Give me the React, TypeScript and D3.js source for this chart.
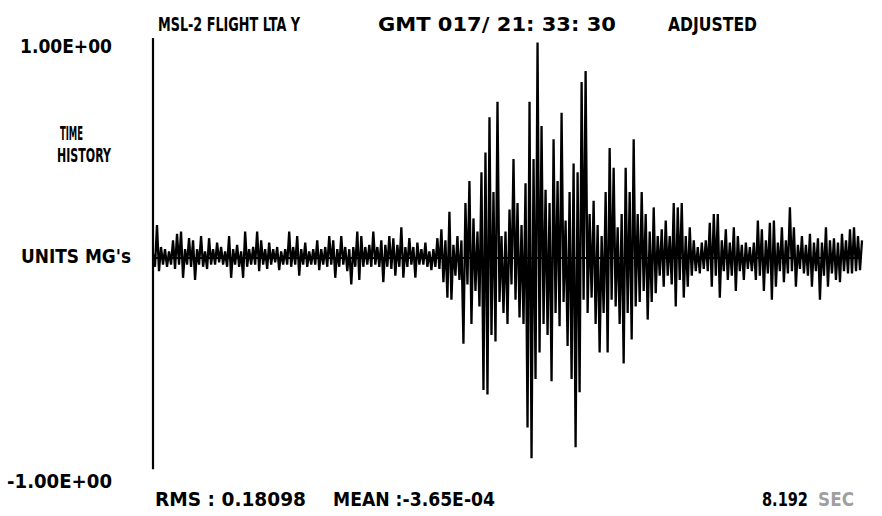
import React from "react";
import * as d3 from "d3";

// Acceleration time history (g), sampled evenly over the record.
// Quiet lead-in before the event
const quietSegment: number[] = [
  0.02, -0.04, 0.15, -0.06, 0.05, -0.03, 0.04, -0.04, 0.03, -0.03,
  0.08, -0.05, 0.11, -0.03, 0.12, -0.09, 0.04, -0.03, 0.09, -0.04,
  0.08, -0.10, 0.04, -0.03, 0.10, -0.04, 0.03, -0.05, 0.09, -0.03,
  0.04, -0.03, 0.07, -0.02, 0.05, -0.03, 0.03, -0.04, 0.10, -0.09,
  0.04, -0.03, 0.06, -0.04, 0.03, -0.09, 0.12, -0.04, 0.04, -0.03,
  0.05, -0.03, 0.12, -0.06, 0.08, -0.03, 0.04, -0.05, 0.07, -0.03,
  0.04, -0.02, 0.05, -0.055, 0.03, -0.03, 0.04, -0.03, 0.12, -0.04,
  0.05, -0.03, 0.10, -0.08, 0.04, -0.03, 0.07, -0.04, 0.03, -0.03,
  0.04, -0.03, 0.08, -0.055, 0.04, -0.03, 0.05, -0.04, 0.10, -0.03,
  0.08, -0.09, 0.04, -0.04, 0.10, -0.03, 0.05, -0.06, 0.04, -0.12,
  0.05, -0.04, 0.12, -0.10, 0.10, -0.04, 0.05, -0.03, 0.06, -0.04,
  0.12, -0.03, 0.05, -0.04, 0.08, -0.11, 0.06, -0.04, 0.10, -0.05,
  0.09, -0.08, 0.06, -0.04, 0.14, -0.09, 0.05, -0.04, 0.09, -0.03,
  0.05, -0.09, 0.07, -0.03, 0.04, -0.03, 0.07, -0.04, 0.03, -0.055,
  0.04, -0.04, 0.09, -0.05, 0.13,
];

// Main event burst
const burstSegment: number[] = [
  -0.11, 0.08, -0.18, 0.21, -0.19, 0.06, -0.08, 0.10, -0.10, 0.08,
  -0.39, 0.25, -0.12, 0.35, -0.30, 0.18, -0.15, 0.12, -0.22, 0.39,
  -0.60, 0.48, -0.62, 0.64, -0.35, 0.30, -0.38, 0.71, -0.20, 0.10,
  -0.25, 0.12, -0.30, 0.22, -0.12, 0.45, -0.19, 0.25, -0.27, 0.15,
  -0.30, 0.34, -0.77, 0.71, -0.91, 0.45, -0.55, 0.98, -0.43, 0.60,
  -0.30, 0.31, -0.35, 0.25, -0.56, 0.54, -0.25, 0.35, -0.31, 0.66,
  -0.20, 0.17, -0.40, 0.30, -0.55, 0.43, -0.86, 0.39, -0.61, 0.80,
  -0.19, 0.85, -0.25, 0.20, -0.18, 0.26, -0.30, 0.15, -0.43, 0.10,
  -0.25, 0.30, -0.43, 0.50, -0.19, 0.41, -0.22, 0.14, -0.30, 0.20,
  -0.48, 0.41, -0.25, 0.30, -0.37, 0.54, -0.22, 0.20, -0.20, 0.30,
  -0.15, 0.20, -0.28,
];

// Decaying tail after the event
const tailSegment: number[] = [
  0.12, -0.20, 0.23, -0.16, 0.10, -0.08, 0.13, -0.13, 0.17, -0.08,
  0.10, -0.12, 0.25, -0.22, 0.23, -0.10, 0.25, -0.18, 0.10, -0.13,
  0.14, -0.08, 0.08, -0.06, 0.05, -0.07, 0.07, -0.05, 0.08, -0.06,
  0.16, -0.13, 0.20, -0.08, 0.20, -0.18, 0.08, -0.06, 0.13, -0.10,
  0.07, -0.08, 0.14, -0.15, 0.10, -0.06, 0.06, -0.10, 0.07, -0.05,
  0.05, -0.06, 0.07, -0.10, 0.17, -0.08, 0.13, -0.15, 0.08, -0.07,
  0.16, -0.19, 0.17, -0.13, 0.07, -0.06, 0.14, -0.11, 0.08, -0.07,
  0.23, -0.06, 0.14, -0.13, 0.06, -0.05, 0.10, -0.07, 0.06, -0.08,
  0.11, -0.13, 0.07, -0.06, 0.09, -0.19, 0.07, -0.08, 0.14, -0.13,
  0.08, -0.07, 0.09, -0.10, 0.07, -0.11, 0.11, -0.06, 0.08, -0.07,
  0.13, -0.07, 0.14, -0.06, 0.10, -0.055, 0.08,
];

const signal: number[] = [...quietSegment, ...burstSegment, ...tailSegment];

const duration = 8.192; // seconds
const yDomain: [number, number] = [-1, 1];
const yTickLabels = ["1.00E+00", "-1.00E+00"];
const titleParts = ["MSL-2 FLIGHT LTA Y", "GMT 017/ 21: 33: 30", "ADJUSTED"];
const sideLabels = ["TIME", "HISTORY", "UNITS MG's"];
const statLabels = ["RMS : 0.18098", "MEAN :-3.65E-04"];
const durationLabel = ["8.192", "SEC"];

const W = 882;
const H = 516;

const font = "'DejaVu Sans', sans-serif";

// Tall, narrow plotter-style lettering: fixed width, stretched vertically.
function Label({
  x,
  y,
  width,
  text,
  opacity = 1,
}: {
  x: number;
  y: number;
  width: number;
  text: string;
  opacity?: number;
}) {
  return (
    <text
      transform={`translate(${x},${y}) scale(1,1.12)`}
      textLength={width}
      lengthAdjust="spacingAndGlyphs"
      fontFamily={font}
      fontWeight={700}
      fontSize={17}
      fill="#000"
      fillOpacity={opacity}
    >
      {text}
    </text>
  );
}

export default function App() {
  const x = d3.scaleLinear().domain([0, duration]).range([153, 862]);
  const y = d3.scaleLinear().domain(yDomain).range([478, 38]);
  const dt = duration / (signal.length - 1);

  const line = d3
    .line<number>()
    .x((_, i) => x(i * dt))
    .y((v) => y(v));

  return (
    <svg
      width={W}
      height={H}
      style={{ position: "absolute", left: 0, top: 0, background: "#fff" }}
    >
      <rect width={W} height={H} fill="#fff" />

      {/* title row */}
      <Label x={158} y={31} width={142} text={titleParts[0]} />
      <Label x={378} y={31} width={238} text={titleParts[1]} />
      <Label x={668} y={31} width={89} text={titleParts[2]} />

      {/* y range labels */}
      <Label x={20} y={53} width={92} text={yTickLabels[0]} />
      <Label x={7} y={488} width={105} text={yTickLabels[1]} />

      {/* side annotations */}
      <Label x={60} y={140} width={23} text={sideLabels[0]} />
      <Label x={57} y={162} width={54} text={sideLabels[1]} />
      <Label x={21} y={263} width={110} text={sideLabels[2]} />

      {/* statistics row */}
      <Label x={155} y={506} width={151} text={statLabels[0]} />
      <Label x={333} y={506} width={162} text={statLabels[1]} />
      <Label x={762} y={506} width={46} text={durationLabel[0]} />
      <Label x={818} y={506} width={36} text={durationLabel[1]} opacity={0.4} />

      {/* vertical axis */}
      <line x1={x(0)} x2={x(0)} y1={y(1)} y2={y(-0.96)} stroke="#000" strokeWidth={2.2} />

      {/* zero reference */}
      <line x1={x(0)} x2={x(duration)} y1={y(0)} y2={y(0)} stroke="#000" strokeWidth={2} />

      {/* time history trace */}
      <path
        d={line(signal) ?? ""}
        fill="none"
        stroke="#000"
        strokeWidth={2.3}
        strokeLinejoin="miter"
      />
    </svg>
  );
}
